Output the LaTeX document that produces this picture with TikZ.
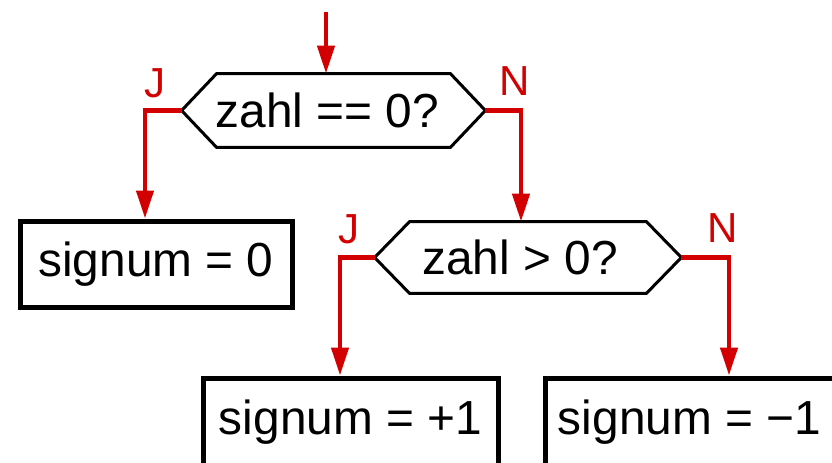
\documentclass[tikz,border=0pt]{standalone}
\usepackage{fontspec}
\setmainfont{Liberation Sans}
\usetikzlibrary{arrows.meta,calc}
\definecolor{fred}{RGB}{210,0,0}
\begin{document}
\begin{tikzpicture}[x=0.5pt,y=-0.5pt,
  box/.style={draw=black,line width=2.5pt,inner sep=0pt,font=\fontsize{23.9}{28}\selectfont},
  dec/.style={inner sep=0pt,font=\fontsize{23.9}{28}\selectfont},
  hexline/.style={draw=black,line width=1.5pt,line join=miter},
  flow/.style={draw=fred,line width=2.2pt,-{Triangle[length=14pt,width=8.5pt]}},
  lbl/.style={text=fred,font=\fontsize{21}{24}\selectfont,inner sep=0pt}]
\useasboundingbox (0,0) rectangle (832,462);
\clip (0,0) rectangle (832,462);
\fill[white] (0,0) rectangle (832,462);
% decisions
\node[dec,minimum width=151.5pt,minimum height=36.5pt] (d1) at (333.5,110.5) {zahl == 0?\hspace*{6pt}};
\draw[hexline] (d1.west) -- ([xshift=17.5pt]d1.north west) -- ([xshift=-17.5pt]d1.north east) -- (d1.east) -- ([xshift=-17.5pt]d1.south east) -- ([xshift=17.5pt]d1.south west) -- cycle;
\node[dec,minimum width=153pt,minimum height=35.5pt] (d2) at (528,257.5) {zahl > 0?\hspace*{8pt}};
\draw[hexline] (d2.west) -- ([xshift=17.5pt]d2.north west) -- ([xshift=-17.5pt]d2.north east) -- (d2.east) -- ([xshift=-17.5pt]d2.south east) -- ([xshift=17.5pt]d2.south west) -- cycle;
% boxes
\node[box,minimum width=136pt,minimum height=43pt] (b0) at (156,264) {signum = 0};
\node[box,minimum width=147.5pt,minimum height=44pt] (b1) at (350.5,422) {signum = +1};
\node[box,minimum width=144.5pt,minimum height=44pt] (b2) at (689.5,422) {signum = −1};
% labels
\node[lbl] (j1) at (155,83) {J};
\node[lbl] (n1) at (515,81) {N};
\node[lbl] (j2) at (349,229) {J};
\node[lbl] (n2) at (723,228) {N};
% bend points
\coordinate (s) at (326,12);
\coordinate (c1) at (145,110.5);
\coordinate (c2) at (521,110.5);
\coordinate (c3) at (340,257.5);
\coordinate (c4) at (729,257.5);
% connectors
\draw[flow] (s) -- (s |- d1.north);
\draw[flow] (d1.west) -- (c1) -- (c1 |- b0.north);
\draw[flow] (d1.east) -- (c2) -- (c2 |- d2.north);
\draw[flow] (d2.west) -- (c3) -- (c3 |- b1.north);
\draw[flow] (d2.east) -- (c4) -- (c4 |- b2.north);
\end{tikzpicture}
\end{document}
